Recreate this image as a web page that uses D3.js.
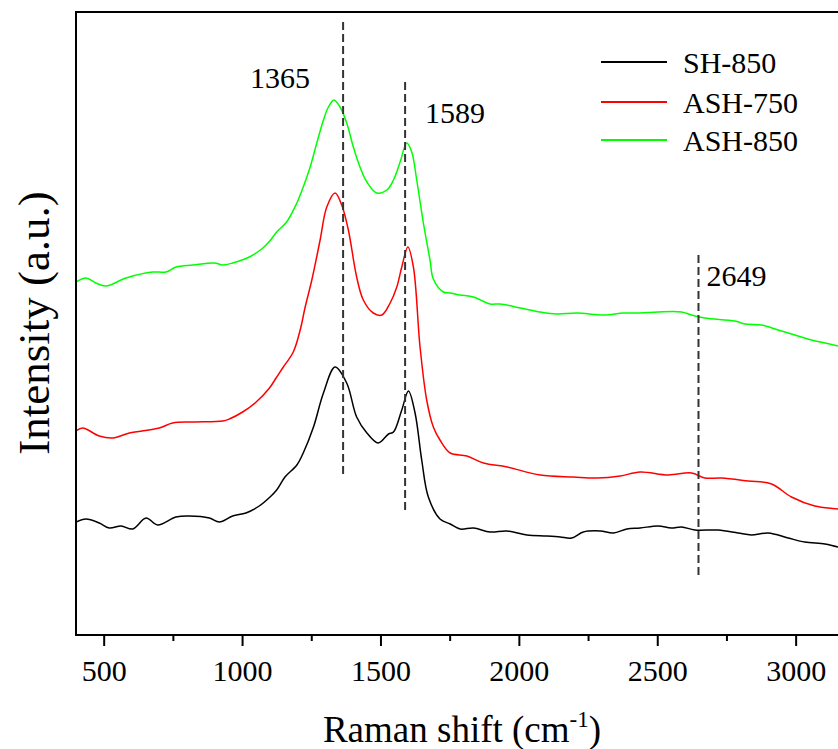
<!DOCTYPE html>
<html>
<head>
<meta charset="utf-8">
<script src="https://cdn.jsdelivr.net/npm/d3@7/dist/d3.min.js"></script>
<style>
  html, body { margin: 0; padding: 0; background: #fff; }
  svg { display: block; }
  text { font-family: "Liberation Serif", "Times New Roman", serif; fill: #000; }
</style>
</head>
<body>
<svg id="chart" width="838" height="749"></svg>
<script>
// Raman spectra, [Raman shift (cm-1), intensity (a.u., stacked)]
const sh850 = [
  [400,113],[436,116],[484,112],[520,107],[563,109],[605,106],[653,117],[695,110],
  [761,118],[809,119],[882,117],[918,113],[966,119],[1014,122],[1062,129],[1101,138],
  [1125,145],[1155,158],[1198,170],[1221,182],[1258,208],[1294,242],[1336,268],
  [1378,252],[1414,218],[1451,202],[1492,192],[1529,201],[1547,203],[1577,225],
  [1601,244],[1625,222],[1649,175],[1673,138],[1715,116],[1752,111],[1788,106],
  [1836,107],[1896,103],[1957,104],[2029,100],[2101,99],[2149,98],[2191,97],
  [2233,103],[2294,104],[2342,102],[2390,106],[2438,107],[2503,109],[2551,107],
  [2588,108],[2636,105],[2720,105],[2792,102],[2840,100],[2901,102],[2973,97],
  [3033,93],[3106,91],[3154,88],[3200,87]
];
const ash750 = [
  [400,204],[424,207],[484,199],[533,197],[593,202],[701,207],[749,212],[822,213],
  [930,214],[954,216],[1002,223],[1051,233],[1099,247],[1123,257],[1149,268],
  [1185,283],[1210,305],[1228,328],[1252,355],[1282,395],[1306,428],[1336,442],
  [1360,430],[1384,405],[1414,358],[1438,335],[1474,322],[1505,320],[1535,332],
  [1559,348],[1577,368],[1599,388],[1619,368],[1643,288],[1667,235],[1691,208],
  [1715,195],[1752,182],[1812,179],[1872,172],[1957,168],[2077,160],[2197,158],
  [2282,157],[2366,159],[2438,163],[2539,160],[2624,162],[2672,157],[2732,157],
  [2829,154],[2913,151],[2985,138],[3069,129],[3154,126],[3200,124]
];
const ash850 = [
  [400,353],[436,357],[472,352],[508,349],[581,357],[677,363],[725,363],[761,368],
  [822,370],[900,372],[930,370],[966,372],[1026,378],[1075,387],[1100,394],
  [1125,403],[1161,413],[1198,432],[1221,448],[1246,468],[1270,492],
  [1294,515],[1312,528],[1332,535],[1354,528],[1378,512],[1402,488],[1426,468],
  [1451,453],[1487,442],[1523,445],[1547,455],[1571,473],[1595,492],[1613,483],
  [1631,455],[1655,412],[1679,375],[1691,356],[1727,343],[1752,342],[1788,340],
  [1836,338],[1896,331],[1932,331],[2005,327],[2077,323],[2137,321],[2209,322],
  [2306,320],[2378,322],[2438,322],[2503,323],[2588,323],[2624,320],[2672,317],
  [2780,314],[2817,311],[2877,310],[2937,305],[2997,300],[3057,295],[3106,292],
  [3154,289],[3200,286]
];

const seriesNames = ["SH-850", "ASH-750", "ASH-850"];
const seriesColors = ["#000000", "#ff0000", "#00ff00"];
const seriesData = [sh850, ash750, ash850];

// Marked band positions (cm-1) and the extent of each marker (intensity units)
const peakShifts = [1365, 1589, 2649];
const peakLabels = ["1365", "1589", "2649"];
const peakSpan = [[157, 613], [125, 553], [57, 380]];

const xTicks = [500, 1000, 1500, 2000, 2500, 3000];
const xMinorTicks = [750, 1250, 1750, 2250, 2750];

const xDomain = [400, 3200];
const yDomain = [0, 623];

const svg = d3.select("#chart");
const margin = { left: 76, top: 12, right: 851, bottom: 635 };

const x = d3.scaleLinear().domain(xDomain).range([margin.left, margin.right]);
const y = d3.scaleLinear().domain(yDomain).range([margin.bottom, margin.top]);

svg.append("defs").append("clipPath").attr("id", "plot-clip")
  .append("rect")
  .attr("x", margin.left).attr("y", margin.top)
  .attr("width", margin.right - margin.left)
  .attr("height", margin.bottom - margin.top);

// Spectra
const line = d3.line()
  .x(d => x(d[0]))
  .y(d => y(d[1]))
  .curve(d3.curveCatmullRom.alpha(0.5));

const plot = svg.append("g").attr("clip-path", "url(#plot-clip)");
seriesData.forEach((data, i) => {
  plot.append("path")
    .datum(data)
    .attr("fill", "none")
    .attr("stroke", seriesColors[i])
    .attr("stroke-width", 1.5)
    .attr("stroke-linejoin", "round")
    .attr("d", line);
});

// Band markers
const markerOffsets = [[-93, 88], [20, 123], [8, 286]];
peakShifts.forEach((p, i) => {
  plot.append("line")
    .attr("x1", x(p)).attr("x2", x(p))
    .attr("y1", y(peakSpan[i][1])).attr("y2", y(peakSpan[i][0]))
    .attr("stroke", "#333")
    .attr("stroke-width", 2)
    .attr("stroke-dasharray", "8,4");
  svg.append("text")
    .attr("x", x(p) + markerOffsets[i][0])
    .attr("y", markerOffsets[i][1])
    .attr("font-size", 30)
    .text(peakLabels[i]);
});

// Frame
svg.append("rect")
  .attr("x", margin.left).attr("y", margin.top)
  .attr("width", margin.right - margin.left)
  .attr("height", margin.bottom - margin.top)
  .attr("fill", "none")
  .attr("stroke", "#000")
  .attr("stroke-width", 2);

// Bottom axis
const xAxis = d3.axisBottom(x)
  .tickValues(xTicks)
  .tickSize(11)
  .tickPadding(14)
  .tickFormat(d3.format("d"));
const gx = svg.append("g")
  .attr("transform", `translate(0,${margin.bottom})`)
  .call(xAxis);
gx.select(".domain").remove();
gx.selectAll(".tick line").attr("stroke", "#000").attr("stroke-width", 2);
gx.selectAll(".tick text")
  .attr("font-size", 30)
  .attr("font-family", "'Liberation Serif', 'Times New Roman', serif")
  .attr("fill", "#000");

const gxMinor = svg.append("g")
  .attr("transform", `translate(0,${margin.bottom})`)
  .call(d3.axisBottom(x).tickValues(xMinorTicks).tickSize(6).tickFormat(""));
gxMinor.select(".domain").remove();
gxMinor.selectAll(".tick line").attr("stroke", "#000").attr("stroke-width", 2);

// Axis titles
const xTitle = svg.append("text")
  .attr("x", 462).attr("y", 742)
  .attr("text-anchor", "middle")
  .attr("font-size", 37);
xTitle.append("tspan").text("Raman shift (cm");
xTitle.append("tspan").attr("font-size", 23).attr("dy", -15).text("-1");
xTitle.append("tspan").attr("dy", 15).text(")");

svg.append("text")
  .attr("transform", "translate(49,323) rotate(-90)")
  .attr("text-anchor", "middle")
  .attr("font-size", 45)
  .text("Intensity (a.u.)");

// Legend
const legend = svg.append("g");
const legendY = [62, 102, 140];
seriesNames.forEach((name, i) => {
  legend.append("line")
    .attr("x1", 601).attr("x2", 667)
    .attr("y1", legendY[i]).attr("y2", legendY[i])
    .attr("stroke", seriesColors[i])
    .attr("stroke-width", 2);
  legend.append("text")
    .attr("x", 683).attr("y", legendY[i] + 11)
    .attr("font-size", 30)
    .text(name);
});
</script>
</body>
</html>
